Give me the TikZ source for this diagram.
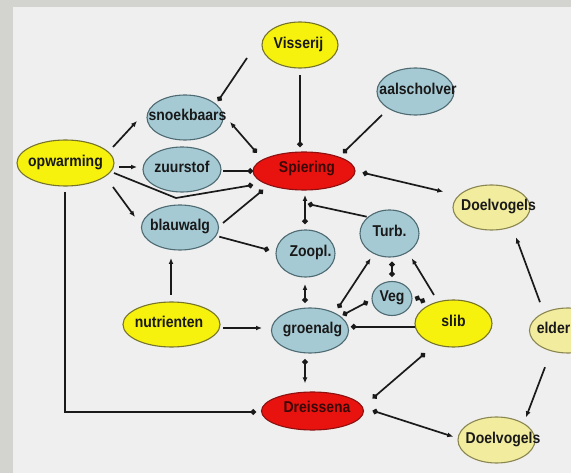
\documentclass[tikz,border=0pt]{standalone}
\usepackage{fontspec}
\setmainfont{Liberation Sans}
\usepackage{graphicx}
\usetikzlibrary{arrows.meta,calc,shapes.geometric}
\definecolor{bgout}{HTML}{D3D4CF}
\definecolor{panel}{HTML}{EFEFEF}
\definecolor{yel}{HTML}{F6F20E}
\definecolor{yelb}{HTML}{76742A}
\definecolor{blu}{HTML}{A6CAD4}
\definecolor{blub}{HTML}{4E6A72}
\definecolor{rd}{HTML}{E8130F}
\definecolor{rdb}{HTML}{8C1010}
\definecolor{rdt}{HTML}{3A0808}
\definecolor{pale}{HTML}{F2EC9E}
\definecolor{paleb}{HTML}{8A8650}
\definecolor{ln}{HTML}{1A1A1A}
\newcommand\ctext[2][0pt]{\makebox[0pt]{\kern#1\scalebox{1}[1.12]{#2}}}
\begin{document}
\begin{tikzpicture}[x=1pt,y=-1pt,
  nd/.style={ellipse, inner sep=0pt, line width=1.1pt, text=black!90,
    font=\fontsize{14}{16}\selectfont\bfseries, text height=10pt, text depth=3pt},
  sz/.style 2 args={minimum width=#1pt, minimum height=#2pt},
  yelN/.style={nd, fill=yel, draw=yelb},
  bluN/.style={nd, fill=blu, draw=blub},
  redN/.style={nd, fill=rd, draw=rdb, text=rdt},
  paleN/.style={nd, fill=pale, draw=paleb},
  e/.style={draw=ln, line width=1.7pt},
  >={Latex[length=6pt,width=5pt]},
  Dt/.tip={Circle[length=5.5pt]}]
\useasboundingbox (0,0) rectangle (571,473);
\clip (0,0) rectangle (571,473);
\fill[bgout] (0,0) rectangle (571,473);
\fill[panel] (12.7,6.7) rectangle (571,473);

% nodes
\node[yelN, sz={76}{46}] (vis) at (300,45) {\ctext[-3pt]{Visserij}};
\node[bluN, sz={77}{47}] (aal) at (415.5,91.5) {\ctext[5pt]{aalscholver}};
\node[bluN, sz={76}{45}] (snoek) at (185,117.5) {\ctext[5pt]{snoekbaars}};
\node[yelN, sz={97}{46}] (opw) at (65.5,163) {\ctext{opwarming}};
\node[bluN, sz={78}{45}] (zuur) at (182,169.5) {\ctext{zuurstof}};
\node[redN, sz={102}{38}] (spier) at (304,171) {\ctext[6pt]{\raisebox{2pt}{Spiering}}};
\node[paleN, sz={77}{45}] (doelT) at (491.5,207.5) {\ctext[14pt]{Doelvogels}};
\node[bluN, sz={77}{45}] (blauw) at (180,227.5) {\ctext{blauwalg}};
\node[bluN, sz={59}{47}] (zoo) at (305.5,253.5) {\ctext[10pt]{Zoopl.}};
\node[bluN, sz={59}{47}] (turb) at (389.5,233.5) {\ctext{Turb.}};
\node[bluN, sz={40}{34}] (veg) at (392,298.5) {\ctext{Veg}};
\node[yelN, sz={97}{45}] (nutr) at (171.5,324.5) {\ctext[-5pt]{nutrienten}};
\node[bluN, sz={77}{45}] (groen) at (310,330.5) {\ctext[5pt]{groenalg}};
\node[yelN, sz={77}{47}] (slib) at (453.5,323.5) {\ctext{slib}};
\node[paleN, sz={77}{45}] (elder) at (568,330.5) {\ctext[-29pt]{elder}};
\node[redN, sz={102}{38}] (dreis) at (312.5,411) {\ctext[9pt]{\raisebox{2pt}{Dreissena}}};
\node[paleN, sz={77}{46}] (doelB) at (496.5,440) {\ctext[13pt]{Doelvogels}};

% connectors
\draw[e,-Dt] ($(vis)+(-53,13)$) -- ($(snoek)+(33,-16.5)$);
\draw[e,-Dt] ($(vis)+(0,30)$) -- ($(spier)+(-4,-24)$);
\draw[e,-Dt] ($(aal)+(-33.5,23.5)$) -- ($(spier)+(39,-18)$);
\draw[e,->] ($(opw)+(47.5,-16)$) -- ($(snoek)+(-48,3.5)$);
\draw[e,->] ($(opw)+(53.5,4)$) -- ($(zuur)+(-45,-2.5)$);
\draw[e,->] ($(opw)+(47.5,24)$) -- ($(blauw)+(-45,-10.5)$);
\draw[e,-Dt] ($(opw)+(48.5,10)$) -- ($(opw)+(110.5,35)$) -- ($(spier)+(-51,14)$);
\draw[e,-Dt] ($(zuur)+(41,1.5)$) -- ($(spier)+(-51,0)$);
\draw[e,{Latex[length=6pt,width=5pt]}-Dt] ($(snoek)+(45,4.5)$) -- ($(spier)+(-47.3,-18.3)$);
\draw[e,-Dt] ($(blauw)+(43,-4.5)$) -- ($(spier)+(-41,19)$);
\draw[e,-Dt] ($(blauw)+(39.3,9.2)$) -- ($(zoo)+(-36.5,-3.5)$);
\draw[e,->] ($(nutr)+(-0.5,-29.5)$) -- ($(blauw)+(-9,30.5)$);
\draw[e,->] ($(nutr)+(51.5,3.5)$) -- ($(groen)+(-48,-2.5)$);
\draw[e,-Dt] ($(opw)+(-0.5,29)$) |- ($(dreis)+(-56.5,1)$);
\draw[e,Dt->] ($(zoo)+(-0.5,-29.5)$) -- ($(spier)+(1,24)$);
\draw[e,-Dt] ($(turb)+(-22.8,-16.8)$) -- ($(spier)+(4,33)$);
\draw[e,Dt->] ($(groen)+(-5,-27.8)$) -- ($(zoo)+(-0.5,30.5)$);
\draw[e,Dt->] ($(groen)+(28,-22.5)$) -- ($(turb)+(-18.8,24.8)$);
\draw[e,Dt-Dt] ($(groen)+(32.7,-15.5)$) -- ($(veg)+(-24,3.2)$);
\draw[e,Dt-Dt] ($(turb)+(2.5,28.2)$) -- ($(veg)+(0,-21.8)$);
\draw[e,Dt-Dt] ($(veg)+(23,-1.5)$) -- ($(slib)+(-28.5,-21.5)$);
\draw[e,->] ($(slib)+(-19.5,-28.5)$) -- ($(turb)+(22.2,24.8)$);
\draw[e,-Dt] ($(slib)+(-38.5,3.2)$) -- ($(groen)+(41,-3.8)$);
\draw[e,Dt->] ($(groen)+(-5,28.8)$) -- ($(dreis)+(-7.5,-27.7)$);
\draw[e,Dt-Dt] ($(slib)+(-28.5,29.8)$) -- ($(dreis)+(60.2,-12.7)$);
\draw[e,Dt->] ($(dreis)+(60.2,-0.3)$) -- ($(doelB)+(-43.2,-3.3)$);
\draw[e,Dt->] ($(spier)+(58.7,1.7)$) -- ($(doelT)+(-48.2,-15.8)$);
\draw[e,->] ($(elder)+(-28,-28.3)$) -- ($(doelT)+(24.5,29.8)$);
\draw[e,->] ($(elder)+(-23,36.7)$) -- ($(doelB)+(29.5,-22.7)$);
\end{tikzpicture}
\end{document}
